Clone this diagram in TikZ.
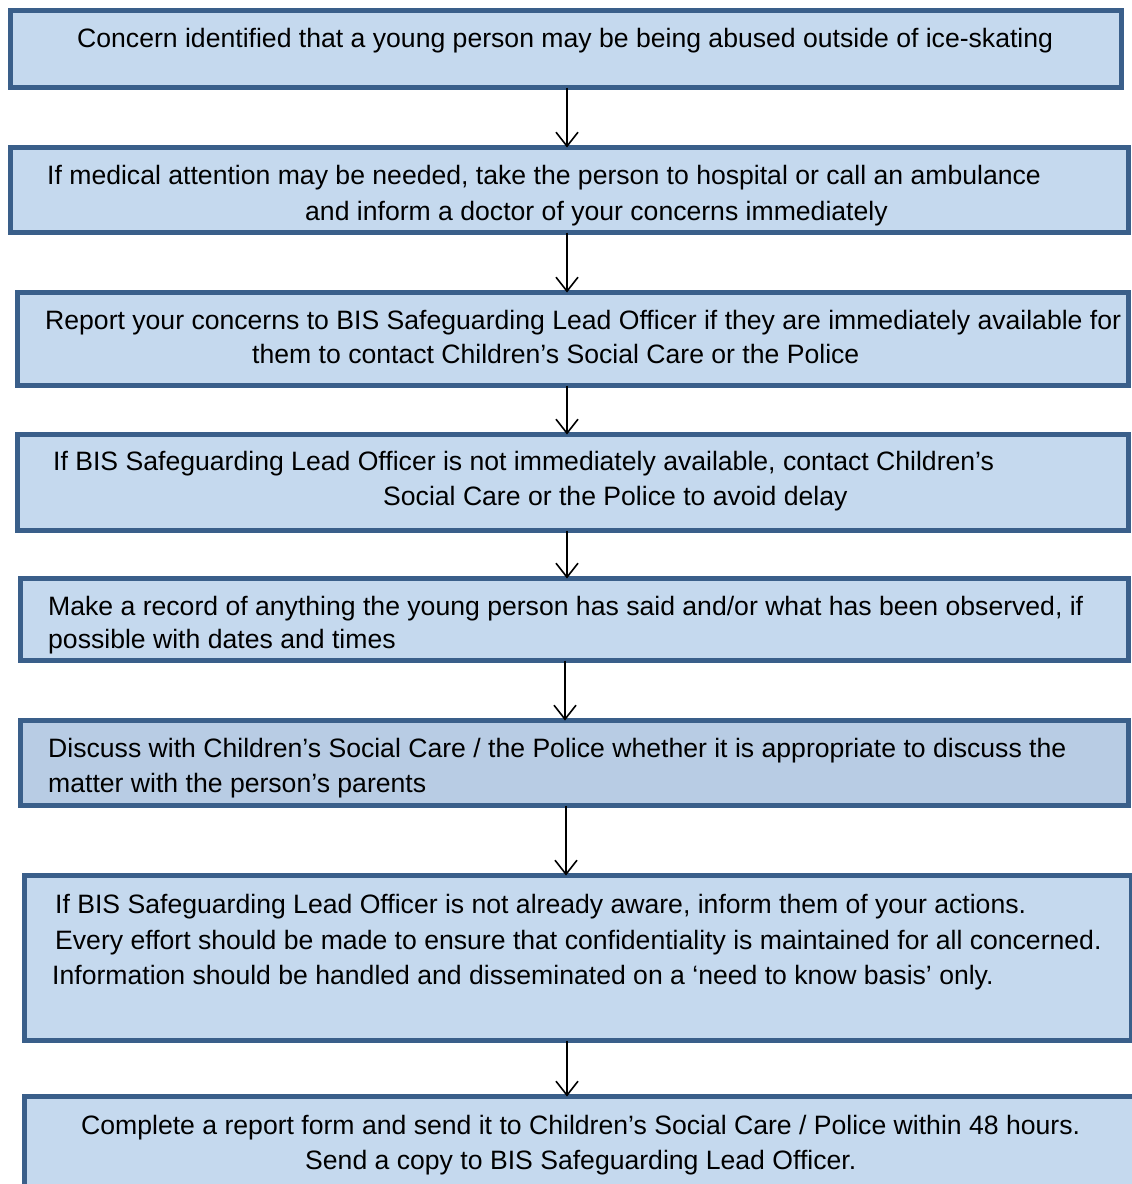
\documentclass[tikz,border=0pt]{standalone}
\usepackage{fontspec}
\setmainfont{Liberation Sans}
\usetikzlibrary{arrows.meta}
\definecolor{boxline}{RGB}{58,95,138}
\definecolor{boxfill}{RGB}{197,217,238}
\definecolor{boxfilldark}{RGB}{184,204,228}
\tikzset{
    stepbox/.style={draw=boxline, fill=boxfill, line width=5pt, anchor=north west,
        inner sep=0pt, outer sep=0pt},
    txt/.style={anchor=base west, inner sep=0pt, font=\fontsize{26.6}{32}\selectfont},
    flow/.style={draw=black, line width=1.6pt, -{Straight Barb[length=14pt,width=22pt,line width=1.6pt]}},
    flowthick/.style={flow, line width=2.8pt},
}
\begin{document}
\begin{tikzpicture}[x=1pt,y=-1pt]
		\useasboundingbox (0,0) rectangle (1132,1184);
		% The boxes
		\node[stepbox, minimum width=1111pt, minimum height=77pt]  (b1) at (10.5,10.5) {};
		\node[stepbox, minimum width=1118pt, minimum height=85pt]  (b2) at (10.5,147.5) {};
		\node[stepbox, minimum width=1111pt, minimum height=93pt]  (b3) at (17.5,292.5) {};
		\node[stepbox, minimum width=1111pt, minimum height=96pt]  (b4) at (17.5,434.5) {};
		\node[stepbox, minimum width=1108pt, minimum height=82pt]  (b5) at (20.5,578.5) {};
		\node[stepbox, fill=boxfilldark, minimum width=1108pt, minimum height=85pt]  (b6) at (20.5,720.5) {};
		\node[stepbox, minimum width=1107pt, minimum height=165pt] (b7) at (24.5,875.5) {};
		\node[stepbox, minimum width=1120pt, minimum height=110pt] (b8) at (24.5,1096.5) {};
		% Text in the boxes
		\node[txt] (t1)  at (77,47)   {Concern identified that a young person may be being abused outside of ice-skating};
		\node[txt] (t2a) at (47,184)  {If medical attention may be needed, take the person to hospital or call an ambulance};
		\node[txt] (t2b) at (305,220) {and inform a doctor of your concerns immediately};
		\node[txt] (t3a) at (45,329)  {Report your concerns to BIS Safeguarding Lead Officer if they are immediately available for};
		\node[txt] (t3b) at (252,363) {them to contact Children’s Social Care or the Police};
		\node[txt] (t4a) at (53,470)  {If BIS Safeguarding Lead Officer is not immediately available, contact Children’s};
		\node[txt] (t4b) at (383,505) {Social Care or the Police to avoid delay};
		\node[txt] (t5a) at (48,615)  {Make a record of anything the young person has said and/or what has been observed, if};
		\node[txt] (t5b) at (48,648)  {possible with dates and times};
		\node[txt] (t6a) at (48,757)  {Discuss with Children’s Social Care / the Police whether it is appropriate to discuss the};
		\node[txt] (t6b) at (48,792)  {matter with the person’s parents};
		\node[txt] (t7a) at (55,913)  {If BIS Safeguarding Lead Officer is not already aware, inform them of your actions.};
		\node[txt] (t7b) at (55,949)  {Every effort should be made to ensure that confidentiality is maintained for all concerned.};
		\node[txt] (t7c) at (52,984)  {Information should be handled and disseminated on a ‘need to know basis’ only.};
		\node[txt] (t8a) at (81,1134) {Complete a report form and send it to Children’s Social Care / Police within 48 hours.};
		\node[txt] (t8b) at (305,1169) {Send a copy to BIS Safeguarding Lead Officer.};
		% The arrows between the boxes
		\coordinate (ax) at (567,0);
		\coordinate (bx) at (565,0);
		\coordinate (cx) at (566,0);
		\draw[flow]  (b1.south -| ax) -- (b2.north -| ax) ;
		\draw[flow]  (b2.south -| ax) -- (b3.north -| ax) ;
		\draw[flow]  (b3.south -| ax) -- (b4.north -| ax) ;
		\draw[flow]  (b4.south -| ax) -- (b5.north -| ax) ;
		\draw[flowthick]  (b5.south -| bx) -- (b6.north -| bx) ;
		\draw[flowthick]  (b6.south -| cx) -- (b7.north -| cx) ;
		\draw[flow]  (b7.south -| ax) -- (b8.north -| ax) ;
	\end{tikzpicture}
\end{document}
